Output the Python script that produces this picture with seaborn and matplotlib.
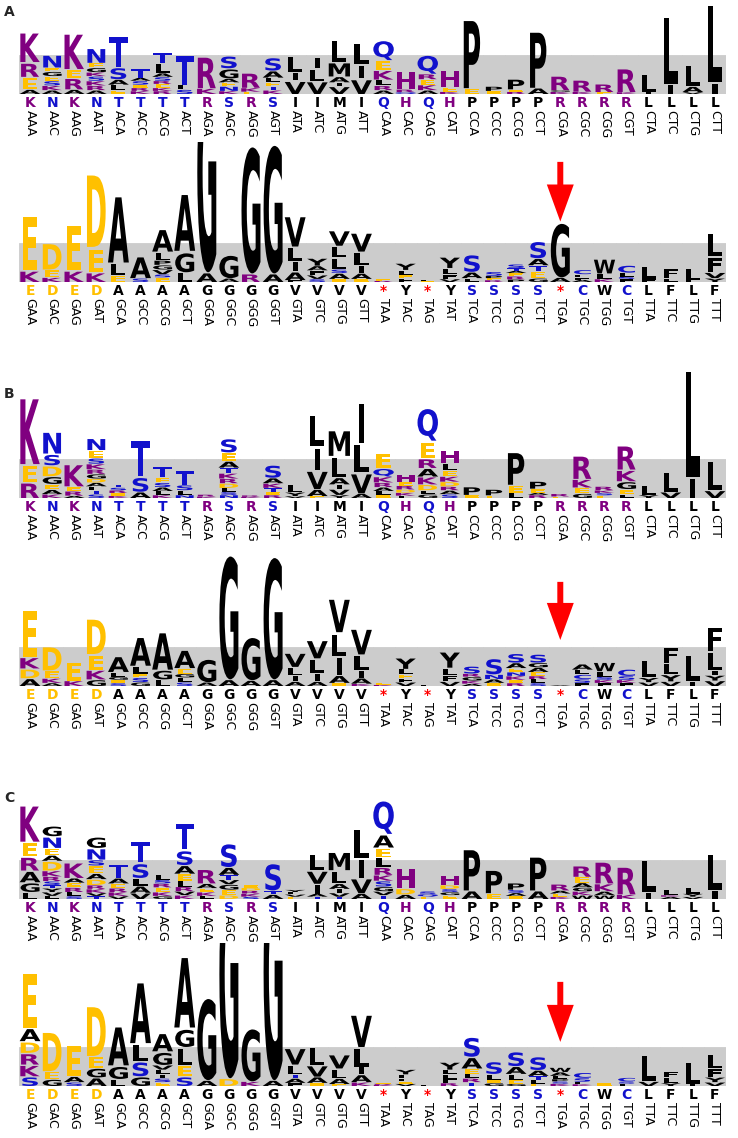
"""
Codon sequence logos - panels A, B, C.
Each panel has two rows of 32 codons; letter heights are in units of the
grey band (band height = 1.0). Stacks are listed bottom -> top.
"""

import matplotlib
matplotlib.use("Agg")
import matplotlib.pyplot as plt
import matplotlib.transforms as mtransforms
from matplotlib.textpath import TextPath
from matplotlib.patches import PathPatch, FancyArrow
from matplotlib.font_manager import FontProperties
import pandas as pd
import seaborn as sns

# ─────────────────────────────────────────
#  DATA
# ─────────────────────────────────────────
CODONS_TOP = ["AAA", "AAC", "AAG", "AAT", "ACA", "ACC", "ACG", "ACT",
              "AGA", "AGC", "AGG", "AGT", "ATA", "ATC", "ATG", "ATT",
              "CAA", "CAC", "CAG", "CAT", "CCA", "CCC", "CCG", "CCT",
              "CGA", "CGC", "CGG", "CGT", "CTA", "CTC", "CTG", "CTT"]
CODONS_BOTTOM = ["GAA", "GAC", "GAG", "GAT", "GCA", "GCC", "GCG", "GCT",
                 "GGA", "GGC", "GGG", "GGT", "GTA", "GTC", "GTG", "GTT",
                 "TAA", "TAC", "TAG", "TAT", "TCA", "TCC", "TCG", "TCT",
                 "TGA", "TGC", "TGG", "TGT", "TTA", "TTC", "TTG", "TTT"]
AA_TOP = list("KNKNTTTTRSRSIIMIQHQHPPPPRRRRLLLL")
AA_BOTTOM = list("EDEDAAAAGGGGVVVV*Y*YSSSS*CWCLFLF")

A_TOP = [
    "A.12 E.32 R.38 K.80", "A.10 K.12 S.12 E.12 G.12 E.10 N.34",
    "A.12 R.30 E.22 K.95", "A.10 R.12 K.12 S.12 K.10 G.12 E.12 N.40",
    "E.10 L.14 A.14 S.32 T.82", "K.08 R.08 E.08 S.10 A.08 T.24",
    "R.08 K.08 E.10 R.08 S.10 A.10 L.26 T.30", "S.12 L.12 T.80",
    "K.15 R.85", "K.08 N.12 E.10 A.10 G.26 S.34",
    "E.06 K.10 R.41", "K.10 T.10 E.10 L.12 A.18 S.36",
    "V.35 I.22 L.43", "V.34 L.32 I.30",
    "V.20 I.10 A.15 M.38 L.60", "V.40 I.36 L.58",
    "A.10 R.12 L.15 K.25 E.25 Q.55", "Q.05 R.07 H.50",
    "A.10 K.14 E.14 R.14 Q.52", "K.06 E.12 H.48",
    "E.15 P1.79", "E.08 P.12", "R.06 E.06 P.28", "A.16 P1.48",
    "K.06 G.04 R.39", "K.06 R.32", "E.05 R.22", "K.05 R.65",
    "I.05 L.50", "I.25 L1.78", "V.05 A.15 L.59", "I.30 L2.02",
]
A_BOTTOM = [
    "K.30 E1.44", "K.12 E.20 D.72", "K.30 E1.21", "K.25 E.65 D1.90",
    "E.18 L.32 A1.74", "S.10 A.60",
    "E.12 S.08 V.12 G.12 P.12 L.22 A.62", "L.25 G.55 A1.50",
    "A.25 G5.20", "A.10 G.64", "R.22 G3.30", "A.22 G3.34",
    "F.05 A.22 I.28 L.36 V.82", "S.08 V.10 F.12 A.12 Y.20",
    "E.08 A.15 S.10 L.30 L.30 V.42", "E.08 A.15 I.20 L.35 V.52",
    "R.03 E.04", "F.10 E.08 L.13 Y.18", "E.03 L.03", "V.08 F.12 L.16 Y.30",
    "L.10 A.16 S.48", "R.05 E.05 P.06 S.11",
    "P.07 R.08 E.08 A.06 T.07 S.10", "G.10 E.18 T.15 A.18 S.47",
    "A.12 G1.44", "A.06 F.06 L.08 C.12", "K.08 L.14 W.40", "F.08 S.06 L.10 C.20",
    "F.08 L.36", "L.10 F.26", "F.06 L.30", "Y.10 V.15 F.42 L.63",
]

B_TOP = [
    "R.42 E.45 K1.73", "K.10 A.12 E.14 G.20 D.28 S.30 N.60",
    "A.06 R.12 E.12 K.61",
    "S.10 T.10 L.10 A.10 D.10 G.12 R.12 K.14 S.15 E.20 N.32",
    "K.06 E.07 R.07 S.07 T.08", "A.16 S.40 T.98",
    "K.08 L.10 A.10 S.12 E.13 T.30", "N.08 L.12 S.14 T.40",
    "K.04 R.05", "N.08 S.08 L.10 D.12 R.12 K.14 T.14 A.17 E.22 S.38",
    "K.03 R.04", "R.08 E.08 T.10 K.12 A.14 S.35",
    "V.05 Y.10 L.20", "E.05 A.18 V.50 I.60 L.84",
    "Y.08 V.15 I.12 A.18 L.55 M.70", "A.12 V.55 L.75 I1.06",
    "E.08 L.10 A.10 R.12 K.15 Q.22 E.40", "F.06 K.08 D.08 R.10 E.10 H.20",
    "G.10 L.10 D.15 K.20 A.22 R.25 E.45 Q.88",
    "S.10 A.10 R.10 D.12 K.14 E.15 L.18 H.37",
    "E.08 P.22", "E.07 P.16", "L.14 E.20 P.88", "R.08 A.06 E.10 P.20",
    "E.04 R.07", "G.12 E.15 K.22 R.64", "E.07 S.06 K.07 R.10",
    "L.10 E.13 G.20 K.30 R.66",
    "Y.08 L.27", "V.16 L.54", "I.55 L2.75", "V.20 L.80",
]
B_BOTTOM = [
    "A.20 D.25 K.30 E1.25", "A.08 K.12 E.20 D.66", "K.14 E.52",
    "G.17 K.25 E.40 D.95",
    "S.08 E.08 G.08 L.12 A.43", "G.10 S.12 E.10 L.20 A.78",
    "L.17 G.25 A1.00", "S.10 L.12 G.10 E.14 A.50",
    "A.10 G.64", "A.17 G3.22", "A.15 G1.15", "A.17 G3.18",
    "A.12 I.15 L.22 V.38", "A.12 I.22 L.37 V.50",
    "E.08 A.20 I.50 L.60 V.90", "K.06 A.15 I.20 L.40 V.70",
    "K.03 E.05", "V.10 F.10 E.10 L.14 Y.30", "L.02", "V.12 F.15 L.20 Y.44",
    "A.06 K.08 G.10 R.08 S.20", "E.08 A.10 N.12 S.44",
    "R.08 E.08 K.10 N.10 E.10 A.14 S.25", "S.08 L.10 R.08 E.10 A.12 G.12 S.23",
    "A.02", "F.08 S.10 C.12 L.12 A.15", "F.08 K.08 S.08 L.14 W.24",
    "F.08 K.08 S.10 C.18",
    "V.10 Y.12 L.48", "V.12 Y.18 L.30 F.42", "I.13 L.70",
    "V.14 Y.14 I.12 L.50 F.66",
]

C_TOP = [
    "L.18 G.25 A.30 R.37 E.37 K.97",
    "L.08 V.10 Y.10 T.08 S.10 R.12 K.15 D.25 A.15 E.18 N.30 G.28",
    "S.08 L.10 R.12 E.12 A.12 K.42",
    "T.08 V.08 K.10 R.10 D.15 A.15 E.20 S.15 N.30 G.30",
    "V.08 K.10 R.10 E.12 A.14 T.38", "V.16 A.18 L.20 S.40 T.60",
    "G.08 K.10 E.12 R.10 S.10 L.12",
    "K.10 V.10 R.12 L.15 E.18 A.22 S.40 T.72",
    "L.08 K.10 E.10 A.12 R.39", "D.10 E.14 G.14 V.12 T.12 A.20 S.65",
    "S.06 K.08 R.08 D.07 E.07", "A.12 T.10 S.74",
    "E.06 V.06 L.06 Y.06", "T.06 A.08 I.25 V.35 L.45",
    "T.06 V.10 I.10 A.14 L.34 M.50", "A.15 V.40 I.50 L.80",
    "T.10 V.10 G.12 S.15 K.15 R.20 L.25 E.25 A.35 Q.90",
    "A.12 D.15 H.58", "E.06 Q.07 S.07", "E.10 G.08 S.08 D.10 H.26",
    "A.22 P1.10", "E.15 P.64", "E.08 A.08 S.08 P.18", "A.22 P.91",
    "K.06 E.08 A.08 R.17", "W.10 K.10 G.10 A.12 E.15 R.30",
    "W.10 A.10 K.20 R.60", "K.12 R.75",
    "I.18 L.86", "A.06 K.04 L.14", "V.06 Y.08 L.16", "I.22 L.99",
]
C_BOTTOM = [
    "S.25 K.30 R.30 D.30 A.35 E1.43", "G.18 E.20 D1.05", "S.10 A.15 E.84",
    "A.22 G.25 E.30 D1.32",
    "L.18 G.35 A1.04", "G.25 S.40 L.45 A1.60",
    "E.10 S.10 I.10 L.12 V.12 G.35 A.50", "S.25 E.30 L.45 G.50 A1.85",
    "A.15 G2.15", "D.20 G5.40", "K.12 G1.40", "A.15 G5.60",
    "F.08 A.12 T.10 L.25 V.45", "E.08 A.16 V.30 L.50",
    "E.05 A.15 L.25 V.38", "K.10 A.20 I.20 L.50 V.87",
    "K.03 R.03 E.03", "V.06 E.06 F.08 L.10 Y.13", "L.03",
    "R.08 F.10 L.12 L.12 Y.20",
    "T.10 R.10 L.12 E.13 A.30 S.55", "G.08 E.08 L.15 S.34",
    "G.06 E.10 L.15 A.20 S.40", "E.06 L.10 T.10 A.15 S.37",
    "K.06 S.06 P.06 L.08 A.10 W.12", "K.05 L.06 S.10 C.14", "E.09",
    "F.06 S.06 C.10",
    "V.12 L.71", "Y.08 L.14 F.17", "I.06 L.59", "V.10 Y.13 F.22 L.38",
]

BAND_HEIGHT = 1.0
ARROW_CODON = "TGA"

# ─────────────────────────────────────────
#  STYLE / LAYOUT
# ─────────────────────────────────────────
PURPLE = "#800080"
BLUE = "#1111CC"
GOLD = "#FFC000"
BLACK = "#000000"
RED = "#FF0000"
GREY = "#CCCCCC"

AA_COLOR = {}
for aa in "KRH":
    AA_COLOR[aa] = PURPLE
for aa in "NTSQC":
    AA_COLOR[aa] = BLUE
for aa in "ED":
    AA_COLOR[aa] = GOLD
AA_COLOR["*"] = RED

FIG_W, FIG_H = 738, 1138
UNIT_PX = 39.0                 # pixels per band unit
X_LEFT, X_RIGHT = 19.0, 726.0  # pixel edges of the 32 columns
ROW_BASE = [94, 282, 498, 686, 899, 1086]   # baseline (bottom of grey band)
ROW_TOP = [0, 142, 360, 539, 770, 943]      # clip line above each row
ARROW_Y = {1: (3.08, 1.55), 3: (2.67, 1.18), 5: (2.67, 1.13)}  # tail, tip
PANEL_LABELS = [("A", 12), ("B", 394), ("C", 798)]

sns.set_theme(style="white")
plt.rcParams["font.family"] = ["DejaVu Sans"]

LOGO_FONT = FontProperties(family="DejaVu Sans", weight="bold")
_glyphs = {}


def glyph(letter):
    if letter not in _glyphs:
        path = TextPath((0, 0), letter, size=1, prop=LOGO_FONT)
        _glyphs[letter] = (path, path.get_extents())
    return _glyphs[letter]


WIDTH_SCALE = 0.88 / glyph("K")[1].width


def draw_letter(ax, letter, x, y, h):
    path, bb = glyph(letter)
    w = min(bb.width * WIDTH_SCALE, 0.96)
    gap = min(0.12 * h, 0.07)
    t = (mtransforms.Affine2D()
         .translate(-bb.x0, -bb.y0)
         .scale(w / bb.width, (h - gap) / bb.height)
         .translate(x - w / 2, y))
    ax.add_patch(PathPatch(t.transform_path(path),
                           facecolor=AA_COLOR.get(letter, BLACK),
                           edgecolor="none", lw=0, zorder=3))


def draw_row(ax, stacks, codons, aas, top_units):
    band = pd.DataFrame({"pos": range(len(codons)),
                         "h": [BAND_HEIGHT] * len(codons)})
    sns.barplot(data=band, x="pos", y="h", color=GREY, saturation=1,
                width=1.0, errorbar=None, edgecolor=GREY, linewidth=0.6,
                zorder=0, ax=ax)

    for i, spec in enumerate(stacks):
        y = 0.0
        for tok in spec.split():
            h = float(tok[1:])
            draw_letter(ax, tok[0], i, y, h)
            y += h

    for i, (aa, cod) in enumerate(zip(aas, codons)):
        ax.text(i, -0.22, aa, ha="center", va="center", fontsize=10,
                fontweight="bold", color=AA_COLOR.get(aa, BLACK))
        ax.text(i, -0.41, cod, ha="center", va="top", fontsize=9,
                rotation=270, color=BLACK)

    ax.set_xlim(-0.5, len(codons) - 0.5)
    ax.set_ylim(0, top_units)
    ax.axis("off")


# ─────────────────────────────────────────
#  FIGURE
# ─────────────────────────────────────────
fig = plt.figure(figsize=(FIG_W / 100, FIG_H / 100), dpi=100)
fig.patch.set_facecolor("white")

rows = [(A_TOP, CODONS_TOP, AA_TOP), (A_BOTTOM, CODONS_BOTTOM, AA_BOTTOM),
        (B_TOP, CODONS_TOP, AA_TOP), (B_BOTTOM, CODONS_BOTTOM, AA_BOTTOM),
        (C_TOP, CODONS_TOP, AA_TOP), (C_BOTTOM, CODONS_BOTTOM, AA_BOTTOM)]

for r, (stacks, codons, aas) in enumerate(rows):
    base, top = ROW_BASE[r], ROW_TOP[r]
    ax = fig.add_axes([X_LEFT / FIG_W, 1 - base / FIG_H,
                       (X_RIGHT - X_LEFT) / FIG_W, (base - top) / FIG_H])
    draw_row(ax, stacks, codons, aas, (base - top) / UNIT_PX)

    if r in ARROW_Y:
        tail, tip = ARROW_Y[r]
        col = codons.index(ARROW_CODON)
        ax.add_patch(FancyArrow(col, tail, 0, tip - tail, width=0.27,
                                head_width=1.22, head_length=0.95,
                                length_includes_head=True, color=RED,
                                lw=0, zorder=5))

for label, ypx in PANEL_LABELS:
    fig.text(9 / FIG_W, 1 - ypx / FIG_H, label, ha="center", va="center",
             fontsize=10, fontweight="bold")

fig.savefig("out.png", dpi=100)
